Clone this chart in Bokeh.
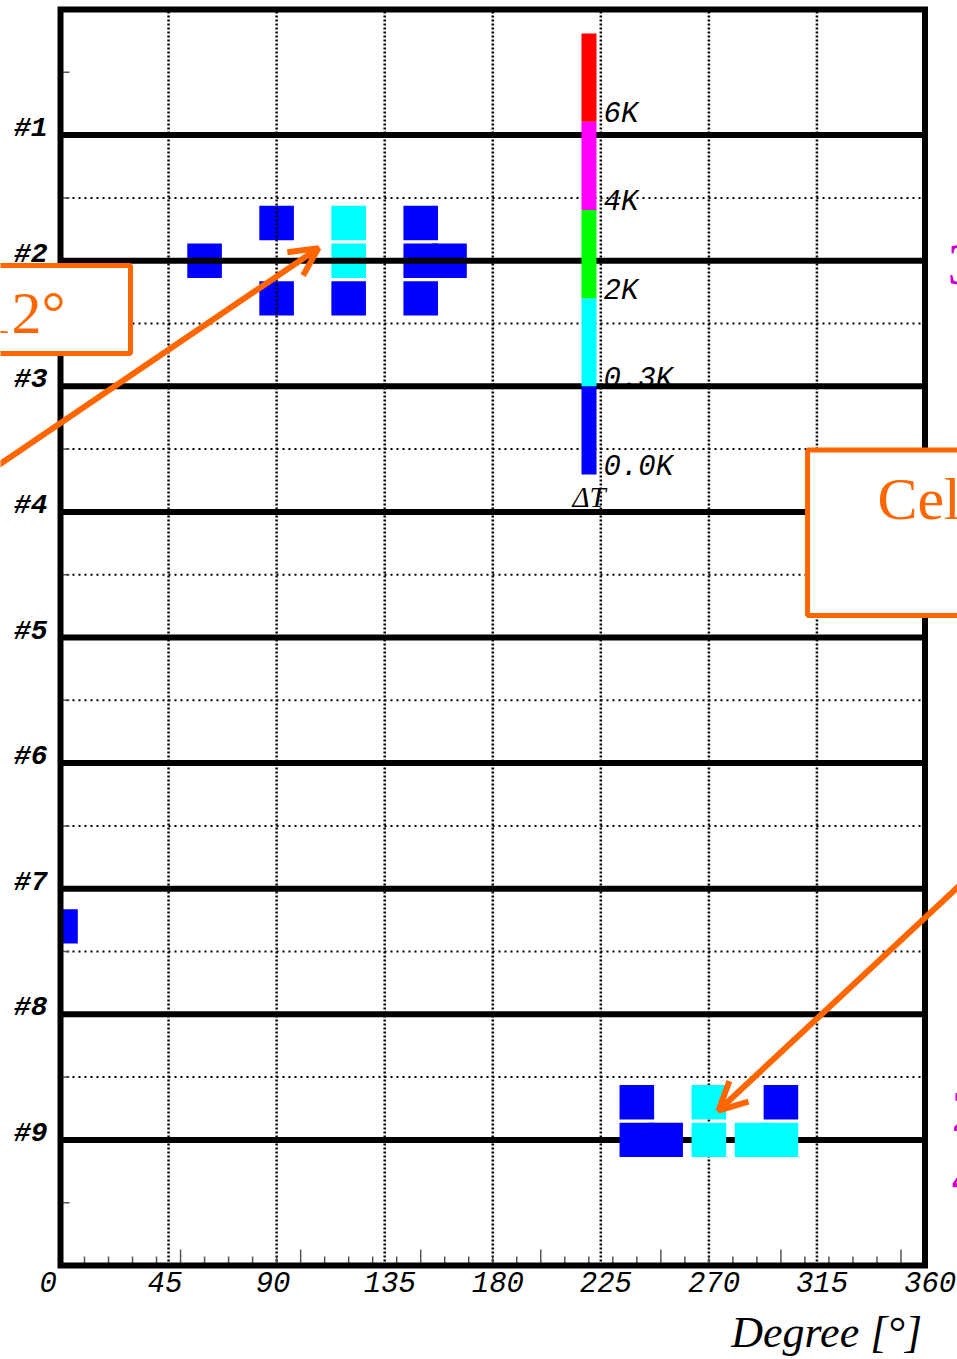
import numpy as np
from bokeh.plotting import figure
from bokeh.models import (Range1d, LabelSet, Label, ColumnDataSource,
                          BoxAnnotation, Arrow, OpenHead)
from bokeh.core.properties import value
from bokeh.embed import file_html
from bokeh.resources import INLINE

# ---------------- data ----------------
ring_labels = ["#1", "#2", "#3", "#4", "#5", "#6", "#7", "#8", "#9"]
degree_labels = ["0", "45", "90", "135", "180", "225", "270", "315", "360"]
degree_values = [0, 45, 90, 135, 180, 225, 270, 315, 360]
x_major_ticks = [0, 50, 100, 150, 200, 250, 300, 350]
x_minor_ticks = [10, 20, 30, 40, 60, 70, 80, 90, 110, 120, 130, 140, 160, 170,
                 180, 190, 210, 220, 230, 240, 260, 270, 280, 290, 310, 320, 330, 340]
y_ticks = [0.5, 1.5, 2.5, 3.5, 4.5, 5.5, 6.5, 7.5, 8.5, 9.5]

# colour scale (Delta T bins)
cb_edges = [0.0, 0.3, 2.0, 4.0, 6.0]
cb_labels = ["0.0K", "0.3K", "2K", "4K", "6K"]
cb_colors = ["#0000FF", "#00FFFF", "#00FF00", "#FF00FF", "#FF0000"]

# hit cells: ring number, azimuth [deg], layer (-1 below, 0 on, +1 above ring), Delta T [K]
cell_ring = [2, 2, 2, 2, 2, 2, 2, 2, 2, 2, 7, 9, 9, 9, 9, 9, 9, 9, 9]
cell_phi = [60, 90, 90, 120, 120, 120, 150, 150, 162, 150, 0,
            240, 240, 252, 270, 270, 288, 300, 300]
cell_layer = [0, 1, -1, 1, 0, -1, 1, 0, 0, -1, -1,
              1, 0, 0, 1, 0, 0, 0, 1]
cell_dT = [0.1, 0.1, 0.1, 1.0, 1.0, 0.1, 0.1, 0.1, 0.1, 0.1, 0.1,
           0.1, 0.1, 0.1, 1.0, 1.0, 1.0, 1.0, 0.1]

# ---------------- layout (pixels) ----------------
W, H = 957, 1359
PX_L, PX_R, PX_T, PX_B = 60.0, 924.5, 9.0, 1265.0
X_MIN, X_MAX, Y_MIN, Y_MAX = 0.0, 360.0, 0.0, 10.0
sx = (PX_R - PX_L) / (X_MAX - X_MIN)
sy = (PX_B - PX_T) / (Y_MAX - Y_MIN)
x_range = Range1d(X_MIN - PX_L / sx, X_MAX + (W - PX_R) / sx)
y_range = Range1d(Y_MIN - (H - PX_B) / sy, Y_MAX + PX_T / sy)

ring_pos = [Y_MAX - (i + 1) for i in range(len(ring_labels))]
half_pos = [r - 0.5 for r in ring_pos[:-1]]
CELL_HW = 7.2
LAYER_OFF = 0.3
CELL_HH = 0.137
ORANGE = "#FF6600"
MAGENTA = "#CC00CC"

p = figure(width=W, height=H, output_backend="svg", toolbar_location=None,
           x_range=x_range, y_range=y_range,
           x_axis_location=None, y_axis_location=None,
           min_border=0)
p.background_fill_color = "white"
p.border_fill_color = "white"
p.outline_line_color = None
p.xgrid.visible = False
p.ygrid.visible = False

# colour of each cell
idx = np.searchsorted(cb_edges, cell_dT, side="right") - 1
cell_color = [cb_colors[i] for i in idx]
cy = [Y_MAX - r + LAYER_OFF * l for r, l in zip(cell_ring, cell_layer)]
cells = dict(left=[max(f - CELL_HW, X_MIN) for f in cell_phi],
             right=[min(f + CELL_HW, X_MAX) for f in cell_phi],
             bottom=[y - CELL_HH for y in cy], top=[y + CELL_HH for y in cy],
             color=cell_color)
under = [i for i, r in enumerate(cell_ring) if r == 2]
over = [i for i, r in enumerate(cell_ring) if r != 2]
src_under = ColumnDataSource({k: [v[i] for i in under] for k, v in cells.items()})
src_over = ColumnDataSource({k: [v[i] for i in over] for k, v in cells.items()})

# colour bar geometry
CB_X0, CB_X1 = 216.96, 223.2
CB_Y0, CB_SEG = 6.298, 0.702
cb_bottom = [CB_Y0 + i * CB_SEG for i in range(len(cb_colors))]
cb_top = [b + CB_SEG for b in cb_bottom]

# colour-bar texts (under the grid lines)
p.text(x=CB_X1, y=cb_bottom, text=cb_labels, x_offset=7, y_offset=-7,
       text_font=value("Liberation Mono"), text_font_style="italic",
       text_font_size="29px", text_color="black", text_baseline="alphabetic",
       text_align="left")
p.text(x=(CB_X0 + CB_X1) / 2, y=CB_Y0, text=["ΔT"], y_offset=7,
       text_font=value("Liberation Serif"), text_font_style="italic",
       text_font_size="29px", text_color="black", text_baseline="top",
       text_align="center")

# cells drawn beneath the grid
p.quad(left="left", right="right", bottom="bottom", top="top", color="color",
       line_color=None, source=src_under)

# grid
p.segment(x0=X_MIN, x1=X_MAX, y0=half_pos, y1=half_pos, line_color="black",
          line_width=2, line_dash="2 4")
p.segment(x0=degree_values[1:-1], x1=degree_values[1:-1], y0=Y_MIN, y1=Y_MAX,
          line_color="black", line_width=2.5, line_dash="2 2")
p.segment(x0=X_MIN, x1=X_MAX, y0=ring_pos, y1=ring_pos, line_color="black", line_width=6)

# ticks (pointing into the frame)
p.ray(x=x_major_ticks, y=Y_MIN, length=16, length_units="screen", angle=np.pi / 2,
      line_color="#555555", line_width=1.5)
p.ray(x=x_minor_ticks, y=Y_MIN, length=9, length_units="screen", angle=np.pi / 2,
      line_color="#555555", line_width=1.5)
p.ray(x=X_MIN, y=y_ticks, length=9, length_units="screen", angle=0,
      line_color="#555555", line_width=1.5)

# colour bar
p.quad(left=CB_X0, right=CB_X1, bottom=cb_bottom, top=cb_top, color=cb_colors,
       line_color=None)

# cells drawn over the grid
p.quad(left="left", right="right", bottom="bottom", top="top", color="color",
       line_color=None, source=src_over)

# frame
p.quad(left=X_MIN, right=X_MAX, bottom=Y_MIN, top=Y_MAX, fill_color=None,
       line_color="black", line_width=6, line_join="miter")

# ring labels
p.add_layout(LabelSet(x=X_MIN, y="y", text="t", x_offset=-13, y_offset=-1,
                      source=ColumnDataSource(dict(y=ring_pos, t=ring_labels)),
                      text_font=value("Liberation Mono"), text_font_style="bold italic",
                      text_font_size="28px", text_color="black",
                      text_align="right", text_baseline="alphabetic"))
# degree labels
p.add_layout(LabelSet(x="x", y=Y_MIN, text="t", x_offset=-21, y_offset=-6,
                      source=ColumnDataSource(dict(x=degree_values, t=degree_labels)),
                      text_font=value("Liberation Mono"), text_font_style="italic",
                      text_font_size="29px", text_color="black",
                      text_align="left", text_baseline="top"))
p.add_layout(Label(x=X_MAX, y=Y_MIN, x_offset=-3, y_offset=-42, text="Degree [°]",
                   text_font="Liberation Serif", text_font_style="italic",
                   text_font_size="44px", text_color="black",
                   text_align="right", text_baseline="top"))

# overlay annotations
p.add_layout(BoxAnnotation(left=-33.3, right=29.15, top=7.962, bottom=7.261,
                           fill_color="white", fill_alpha=1.0,
                           line_color=ORANGE, line_alpha=1.0, line_width=5))
p.add_layout(BoxAnnotation(left=311.1, right=387, top=6.493, bottom=5.175,
                           fill_color="white", fill_alpha=1.0,
                           line_color=ORANGE, line_alpha=1.0, line_width=5))
p.add_layout(Label(x=2.1, y=7.43, y_offset=19, text="12°", text_font="Liberation Serif",
                   text_font_size="60px", text_color=ORANGE,
                   text_align="right", text_baseline="alphabetic"))
p.add_layout(Label(x=340.2, y=5.947, y_offset=20, text="Cel", text_font="Liberation Serif",
                   text_font_size="60px", text_color=ORANGE,
                   text_align="left", text_baseline="alphabetic"))
for xx, yy, tt in [(369.4, 7.818, "3"), (371.0, 1.075, "2"), (371.0, 0.557, "4")]:
    p.add_layout(Label(x=xx, y=yy, y_offset=19, text=tt, text_font="Liberation Serif",
                       text_font_size="60px", text_color=MAGENTA,
                       text_align="left", text_baseline="alphabetic"))
p.add_layout(Arrow(x_start=-29, y_start=6.33, x_end=107.4, y_end=8.10,
                   line_color=ORANGE, line_width=6,
                   end=OpenHead(size=28, line_color=ORANGE, line_width=6)))
p.add_layout(Arrow(x_start=376.9, y_start=3.07, x_end=274.0, y_end=1.234,
                   line_color=ORANGE, line_width=6,
                   end=OpenHead(size=28, line_color=ORANGE, line_width=6)))

open("out.html", "w").write(file_html(p, INLINE))
